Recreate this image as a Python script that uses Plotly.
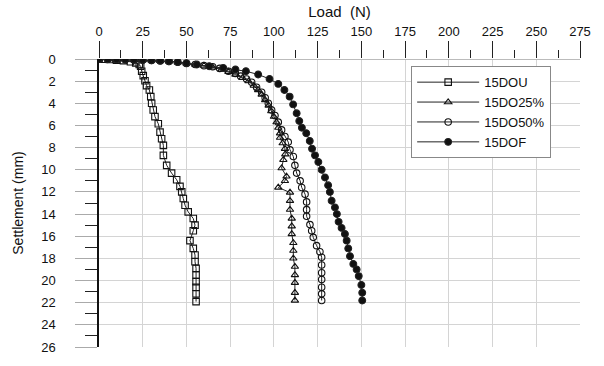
import plotly.graph_objects as go

# ---- data ----
dou_load = [0, 3, 6, 10, 14, 18, 21, 23, 23.8, 24.4, 25.3, 26.3, 27.2, 28.8, 29.6, 30.1, 31.0, 32.0,
            33.9, 34.9, 35.8, 36.8, 36.8, 38.7, 41.5, 44.4, 46.3, 47.3, 48.2, 49.2, 51.0, 53.9,
            54.9, 53.9, 52.0, 53.9, 54.9, 54.9, 55.5, 55.5, 55.5, 55.5, 55.5, 55.5]
dou_settle = [0, 0.02, 0.05, 0.1, 0.15, 0.25, 0.35, 0.5, 0.66, 1.1, 1.5, 1.97, 2.4, 2.8, 3.4, 4.0,
              4.6, 5.2, 5.85, 6.6, 7.2, 7.8, 8.7, 9.6, 10.3, 10.9, 11.5, 12.0, 12.6, 13.2, 13.8,
              14.4, 15.0, 15.5, 16.4, 17.1, 17.7, 18.3, 18.9, 19.5, 20.1, 20.6, 21.2, 21.9]

do25_load = [0, 5, 10, 15, 20, 25, 30, 35, 40, 45, 50, 55, 60, 65, 70, 74, 78, 82, 85.5, 88.5,
             91, 93, 95, 97, 98.5, 100, 101.5, 102.5, 103.5, 103.5, 105, 106.3, 106.5, 105.4,
             104.4, 107.2, 106.3, 102.5, 109.2, 109.2, 109.2, 110.2, 110.2, 110.2, 111.1, 111.1,
             111.1, 112, 112, 112, 112, 112]
do25_settle = [0, 0.02, 0.04, 0.06, 0.08, 0.1, 0.13, 0.17, 0.22, 0.3, 0.4, 0.5, 0.6, 0.75, 0.95,
               1.15, 1.4, 1.7, 2.0, 2.4, 2.8, 3.2, 3.7, 4.2, 4.7, 5.2, 5.7, 6.2, 6.7, 7.1, 7.6,
               8.1, 8.6, 9.1, 9.85, 10.6, 11.0, 11.6, 12.05, 12.8, 13.6, 14.4, 15.1, 15.8, 16.6,
               17.3, 18.0, 18.75, 19.5, 20.2, 21.1, 21.8]

do50_load = [0, 5, 10, 15, 20, 25, 30, 35, 40, 45, 50, 55, 60, 65, 69, 74, 78, 81, 84.4, 87.3,
             90.1, 93, 95, 96.8, 98.7, 100.6, 102.5, 104.4, 106.3, 108.2, 109.2, 111.1, 112, 113,
             115, 115.9, 117.8, 118.7, 118.7, 118.7, 120.6, 121.6, 122.5, 124.4, 126.3, 127.3,
             127.3, 127.3, 127.3, 127.3, 127.3, 127.3]
do50_settle = [0, 0.02, 0.04, 0.06, 0.08, 0.1, 0.13, 0.17, 0.22, 0.3, 0.4, 0.5, 0.6, 0.7, 0.85,
               1.1, 1.3, 1.55, 1.8, 2.1, 2.55, 3.0, 3.5, 4.0, 4.6, 5.1, 5.7, 6.4, 7.0, 7.5, 8.2,
               8.8, 9.6, 10.3, 11.0, 11.6, 12.2, 12.9, 13.6, 14.2, 14.95, 15.5, 16.1, 16.85, 17.4,
               17.9, 18.6, 19.3, 19.9, 20.6, 21.2, 21.8]

dof_load = [0, 5, 10, 15, 20, 25, 30, 35, 40, 45, 50, 56, 63, 71, 78, 84, 91, 97.5, 102.5, 106,
            109, 111, 113, 114.5, 116, 118.5, 120.5, 121.8, 123.5, 125.4, 127.3, 129.2, 131, 132,
            133, 134.9, 136, 137, 138.7, 140.6, 141.6, 142.5, 143.5, 145.4, 147.3, 148.5, 150,
            150.5, 150.5]
dof_settle = [0, 0.02, 0.03, 0.05, 0.07, 0.09, 0.12, 0.15, 0.2, 0.27, 0.37, 0.5, 0.65, 0.8, 0.95,
              1.1, 1.4, 1.8, 2.25, 2.8, 3.4, 4.1, 4.9, 5.6, 6.2, 6.7, 7.4, 8.1, 8.7, 9.3, 10.0,
              10.7, 11.4, 12.0, 12.8, 13.4, 14.0, 14.7, 15.25, 15.8, 16.4, 17.1, 17.8, 18.5, 19.0,
              19.6, 20.4, 21.1, 21.8]

series_names = ["15DOU", "15DO25%", "15DO50%", "15DOF"]
x_ticks = [0, 25, 50, 75, 100, 125, 150, 175, 200, 225, 250, 275]
y_ticks = list(range(0, 27, 2))

FONT = "Liberation Sans, Arial, sans-serif"
fig = go.Figure()

styles = [
    (dou_load, dou_settle, "square-open", 6.5),
    (do25_load, do25_settle, "triangle-up-open", 6.5),
    (do50_load, do50_settle, "circle-open", 6.5),
    (dof_load, dof_settle, "circle", 6.8),
]
for name, (xs, ys, sym, sz) in zip(series_names, styles):
    fig.add_trace(go.Scatter(
        x=xs, y=ys, name=name, mode="lines+markers",
        line=dict(color="#222222", width=1),
        marker=dict(symbol=sym, size=sz, color="#111111",
                    line=dict(color="#222222", width=1.1)),
    ))

fig.update_layout(
    width=604, height=366,
    margin=dict(l=99, r=24, t=57, b=11),
    paper_bgcolor="white", plot_bgcolor="white",
    font=dict(family=FONT, size=13, color="#111111"),
    showlegend=True,
    legend=dict(
        x=0.649, y=0.975, xanchor="left", yanchor="top",
        bgcolor="white", bordercolor="#888888", borderwidth=1,
        font=dict(family=FONT, size=13, color="#111111"),
        itemwidth=62, tracegroupgap=0,
    ),
    xaxis=dict(
        side="top", range=[0, 275], tickvals=x_ticks,
        ticktext=[str(v) for v in x_ticks],
        ticks="outside", ticklen=17, tickwidth=1, tickcolor="#222222",
        minor=dict(dtick=12.5, tick0=0, ticks="outside", ticklen=8,
                   tickcolor="#222222", showgrid=False),
        showgrid=True, gridcolor="#d4d4d4", gridwidth=1,
        showline=False, zeroline=False,
        title=dict(text="Load  (N)", font=dict(size=15), standoff=2),
        tickfont=dict(size=13),
    ),
    yaxis=dict(
        range=[26, 0], tickvals=y_ticks, ticktext=[str(v) for v in y_ticks],
        ticks="outside", ticklen=22, tickwidth=1, tickcolor="#aaaaaa",
        minor=dict(dtick=1, tick0=0, ticks="outside", ticklen=12,
                   tickcolor="#222222", showgrid=False),
        showgrid=True, gridcolor="#d4d4d4", gridwidth=1,
        showline=True, linecolor="#111111", linewidth=1.5,
        zeroline=True, zerolinecolor="#bbbbbb", zerolinewidth=1,
        ticklabelstandoff=17,
        title=dict(text="Settlement (mm)", font=dict(size=14), standoff=14),
        tickfont=dict(size=13),
    ),
)

fig.write_html("out.html")
